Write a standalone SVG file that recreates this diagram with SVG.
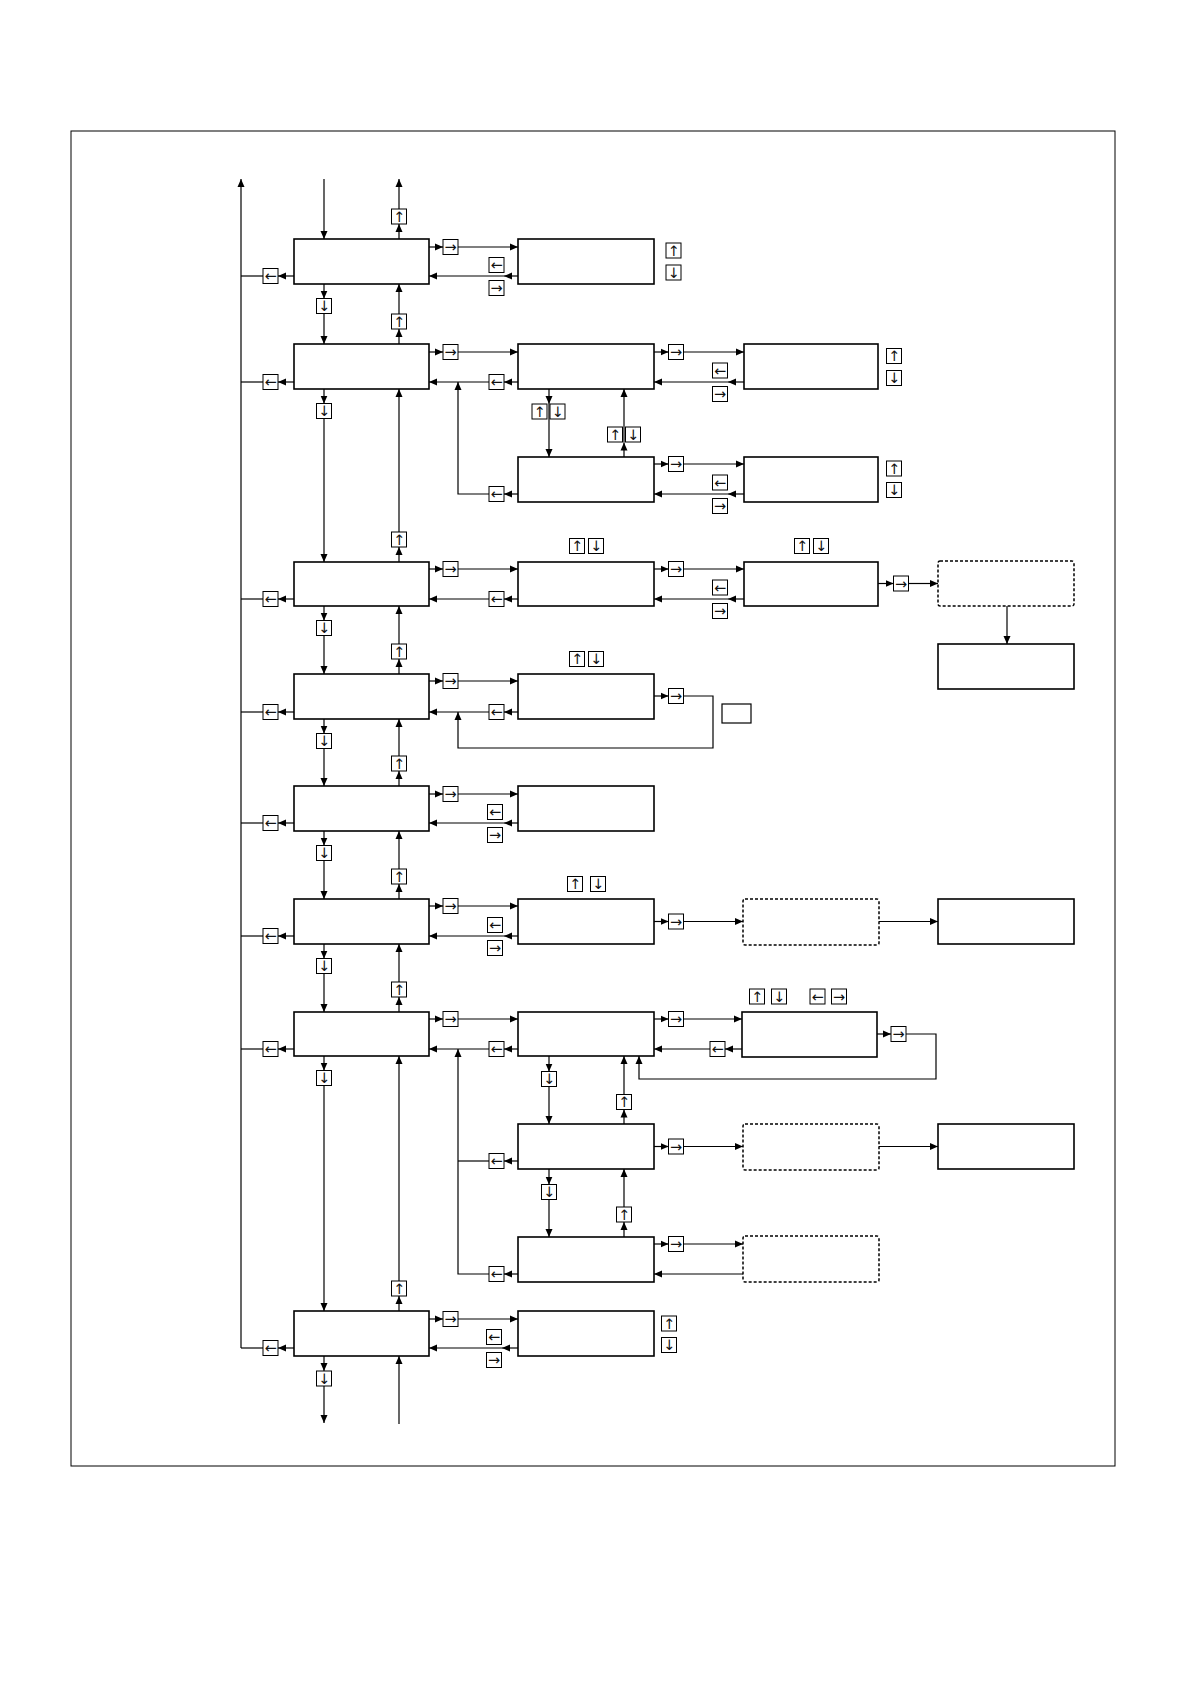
<svg xmlns="http://www.w3.org/2000/svg" xmlns:xlink="http://www.w3.org/1999/xlink" width="1191" height="1684" viewBox="0 0 1191 1684">
<style>
.n{fill:#fff;stroke:#000;stroke-width:1.6}
.d{fill:#fff;stroke:#000;stroke-width:1.5;stroke-dasharray:3 2}
.c{fill:none;stroke:#000;stroke-width:1.2}
.a{marker-end:url(#ah)}
.kr{fill:#fff;stroke:#000;stroke-width:1}
.kt{font-family:"DejaVu Sans",sans-serif;font-size:14.5px;fill:#111;text-anchor:middle}
</style>
<defs>
<marker id="ah" viewBox="0 0 8 8" refX="8" refY="4" markerWidth="8" markerHeight="8" markerUnits="userSpaceOnUse" orient="auto"><path d="M0,0.5 L8,4 L0,7.5z" fill="#000"/></marker>
<g id="kR"><rect class="kr" x="0" y="0" width="15" height="15"/><text class="kt" x="7.5" y="12.5">→</text></g>
<g id="kL"><rect class="kr" x="0" y="0" width="15" height="15"/><text class="kt" x="7.5" y="12.5">←</text></g>
<g id="kU"><rect class="kr" x="0" y="0" width="15" height="15"/><text class="kt" x="7.5" y="12.5">↑</text></g>
<g id="kD"><rect class="kr" x="0" y="0" width="15" height="15"/><text class="kt" x="7.5" y="12.5">↓</text></g>
</defs>
<rect x="0" y="0" width="1191" height="1684" fill="#fff"/>
<rect x="71" y="131" width="1044" height="1335" fill="none" stroke="#000" stroke-width="1"/>

<g id="connectors">
<path class="c a" d="M324,179 V239"/>
<path class="c a" d="M399,239 V224"/>
<path class="c a" d="M399,209 V179"/>
<path class="c a" d="M241,1348 V179"/>
<!-- R1 -->
<path class="c a" d="M429,247 H443"/><path class="c a" d="M458,247 H518"/>
<path class="c a" d="M518,276 H504"/><path class="c a" d="M504,276 H429"/>
<path class="c a" d="M294,276 H278"/><path class="c" d="M263,276 H241"/>
<path class="c a" d="M324,284 V298.5"/><path class="c a" d="M324,313.5 V344"/>
<path class="c a" d="M399,344 V329"/><path class="c a" d="M399,314 V284"/>
<!-- R2 -->
<path class="c a" d="M429,352 H443"/><path class="c a" d="M458,352 H518"/>
<path class="c a" d="M518,382 H504"/><path class="c a" d="M489,382 H429"/>
<path class="c a" d="M294,382 H278"/><path class="c" d="M263,382 H241"/>
<path class="c a" d="M324,389 V403.5"/><path class="c a" d="M324,418.5 V562"/>
<path class="c a" d="M399,562 V547"/><path class="c a" d="M399,532 V389"/>
<path class="c a" d="M654,352 H668.5"/><path class="c a" d="M683.5,352 H744"/>
<path class="c a" d="M744,382 H728"/><path class="c a" d="M728,382 H654"/>
<path class="c a" d="M549,389 V404"/><path class="c a" d="M549,404 V457"/>
<path class="c a" d="M624,457 V442.5"/><path class="c a" d="M624,442.5 V389"/>
<path class="c a" d="M654,464 H668.5"/><path class="c a" d="M683.5,464 H744"/>
<path class="c a" d="M744,494 H728"/><path class="c a" d="M728,494 H654"/>
<path class="c a" d="M518,494 H504"/><path class="c a" d="M489,494 H458 V382"/>
<!-- R3 -->
<path class="c a" d="M429,569 H443"/><path class="c a" d="M458,569 H518"/>
<path class="c a" d="M518,599 H504"/><path class="c a" d="M489,599 H429"/>
<path class="c a" d="M294,599 H278"/><path class="c" d="M263,599 H241"/>
<path class="c a" d="M324,606 V620.5"/><path class="c a" d="M324,635.5 V674"/>
<path class="c a" d="M399,674 V659"/><path class="c a" d="M399,644 V606"/>
<path class="c a" d="M654,569 H668.5"/><path class="c a" d="M683.5,569 H744"/>
<path class="c a" d="M744,599 H728"/><path class="c a" d="M728,599 H654"/>
<path class="c a" d="M878,583.5 H893.5"/><path class="c a" d="M908.5,583.5 H938"/>
<path class="c a" d="M1007,606 V644"/>
<!-- R4 -->
<path class="c a" d="M429,681 H443"/><path class="c a" d="M458,681 H518"/>
<path class="c a" d="M518,712 H504"/><path class="c a" d="M489,712 H429"/>
<path class="c a" d="M294,712 H278"/><path class="c" d="M263,712 H241"/>
<path class="c a" d="M324,719 V733.5"/><path class="c a" d="M324,748.5 V786"/>
<path class="c a" d="M399,786 V771"/><path class="c a" d="M399,756 V719"/>
<path class="c a" d="M654,696 H668.5"/><path class="c a" d="M683.5,696 H713 V748 H458 V712"/>
<!-- R5 -->
<path class="c a" d="M429,794 H443"/><path class="c a" d="M458,794 H518"/>
<path class="c a" d="M518,823 H504"/><path class="c a" d="M504,823 H429"/>
<path class="c a" d="M294,823 H278"/><path class="c" d="M263,823 H241"/>
<path class="c a" d="M324,831 V845.5"/><path class="c a" d="M324,860.5 V899"/>
<path class="c a" d="M399,899 V884"/><path class="c a" d="M399,869 V831"/>
<!-- R6 -->
<path class="c a" d="M429,906 H443"/><path class="c a" d="M458,906 H518"/>
<path class="c a" d="M518,936 H504"/><path class="c a" d="M504,936 H429"/>
<path class="c a" d="M294,936 H278"/><path class="c" d="M263,936 H241"/>
<path class="c a" d="M324,944 V958.5"/><path class="c a" d="M324,973.5 V1012"/>
<path class="c a" d="M399,1012 V997"/><path class="c a" d="M399,982 V944"/>
<path class="c a" d="M654,921.5 H668.5"/><path class="c a" d="M683.5,921.5 H743"/>
<path class="c a" d="M879,921.5 H938"/>
<!-- R7 -->
<path class="c a" d="M429,1019 H443"/><path class="c a" d="M458,1019 H518"/>
<path class="c a" d="M518,1049 H504"/><path class="c a" d="M489,1049 H429"/>
<path class="c a" d="M294,1049 H278"/><path class="c" d="M263,1049 H241"/>
<path class="c a" d="M324,1056 V1070.5"/><path class="c a" d="M324,1085.5 V1311"/>
<path class="c a" d="M399,1311 V1296"/><path class="c a" d="M399,1281 V1056"/>
<path class="c a" d="M654,1019 H668.5"/><path class="c a" d="M683.5,1019 H742"/>
<path class="c a" d="M742,1049 H725"/><path class="c a" d="M710,1049 H654"/>
<path class="c a" d="M877,1034 H891"/><path class="c a" d="M906,1034 H936 V1079 H639 V1056"/>
<path class="c a" d="M549,1056 V1071.5"/><path class="c a" d="M549,1086.5 V1124"/>
<path class="c a" d="M624,1124 V1109.5"/><path class="c a" d="M624,1094.5 V1056"/>
<path class="c a" d="M654,1146.5 H668.5"/><path class="c a" d="M683.5,1146.5 H743"/>
<path class="c a" d="M879,1146.5 H938"/>
<path class="c a" d="M518,1161 H504"/><path class="c" d="M489,1161 H458"/>
<path class="c a" d="M549,1169 V1184.5"/><path class="c a" d="M549,1199.5 V1237"/>
<path class="c a" d="M624,1237 V1222"/><path class="c a" d="M624,1207 V1169"/>
<path class="c a" d="M654,1244 H668.5"/><path class="c a" d="M683.5,1244 H743"/>
<path class="c a" d="M743,1274 H654"/>
<path class="c a" d="M518,1274 H504"/><path class="c a" d="M489,1274 H458 V1049"/>
<!-- R8 -->
<path class="c a" d="M429,1319 H443"/><path class="c a" d="M458,1319 H518"/>
<path class="c a" d="M518,1348 H502"/><path class="c a" d="M502,1348 H429"/>
<path class="c a" d="M294,1348 H278"/><path class="c" d="M263,1348 H241"/>
<path class="c a" d="M324,1356 V1371"/><path class="c a" d="M324,1386 V1423"/>
<path class="c a" d="M399,1424 V1356"/>
</g>

<g id="nodes">
<g id="m1"><rect class="n" x="294" y="239" width="135" height="45"/></g>
<g id="m2"><rect class="n" x="294" y="344" width="135" height="45"/></g>
<g id="m3"><rect class="n" x="294" y="562" width="135" height="44"/></g>
<g id="m4"><rect class="n" x="294" y="674" width="135" height="45"/></g>
<g id="m5"><rect class="n" x="294" y="786" width="135" height="45"/></g>
<g id="m6"><rect class="n" x="294" y="899" width="135" height="45"/></g>
<g id="m7"><rect class="n" x="294" y="1012" width="135" height="44"/></g>
<g id="m8"><rect class="n" x="294" y="1311" width="135" height="45"/></g>
<g id="s1a"><rect class="n" x="518" y="239" width="136" height="45"/></g>
<g id="s2a"><rect class="n" x="518" y="344" width="136" height="45"/></g>
<g id="s2b"><rect class="n" x="518" y="457" width="136" height="45"/></g>
<g id="s3a"><rect class="n" x="518" y="562" width="136" height="44"/></g>
<g id="s4a"><rect class="n" x="518" y="674" width="136" height="45"/></g>
<g id="s5a"><rect class="n" x="518" y="786" width="136" height="45"/></g>
<g id="s6a"><rect class="n" x="518" y="899" width="136" height="45"/></g>
<g id="s7a"><rect class="n" x="518" y="1012" width="136" height="44"/></g>
<g id="s7c"><rect class="n" x="518" y="1124" width="136" height="45"/></g>
<g id="s7e"><rect class="n" x="518" y="1237" width="136" height="45"/></g>
<g id="s8a"><rect class="n" x="518" y="1311" width="136" height="45"/></g>
<g id="t2c"><rect class="n" x="744" y="344" width="134" height="45"/></g>
<g id="t2d"><rect class="n" x="744" y="457" width="134" height="45"/></g>
<g id="t3b"><rect class="n" x="744" y="562" width="134" height="44"/></g>
<g id="t6b"><rect class="d" x="743" y="899" width="136" height="46" rx="2"/></g>
<g id="t7b"><rect class="n" x="742" y="1012" width="135" height="45"/></g>
<g id="t7d"><rect class="d" x="743" y="1124" width="136" height="46" rx="2"/></g>
<g id="t7g"><rect class="d" x="743" y="1236" width="136" height="46" rx="2"/></g>
<g id="u3c"><rect class="d" x="938" y="561" width="136" height="45" rx="2"/></g>
<g id="u3d"><rect class="n" x="938" y="644" width="136" height="45"/></g>
<g id="u6c"><rect class="n" x="938" y="899" width="136" height="45"/></g>
<g id="u7f"><rect class="n" x="938" y="1124" width="136" height="45"/></g>
<g id="small"><rect x="722" y="704" width="29" height="19" fill="#fff" stroke="#000" stroke-width="1.2"/></g>
</g>

<g id="keys">
<use xlink:href="#kU" x="391.5" y="209"/>
<use xlink:href="#kR" x="443" y="239.5"/>
<use xlink:href="#kL" x="489" y="257.5"/><use xlink:href="#kR" x="489" y="280.5"/>
<use xlink:href="#kU" x="666" y="243"/><use xlink:href="#kD" x="666" y="265"/>
<use xlink:href="#kL" x="263" y="268.5"/>
<use xlink:href="#kD" x="316.5" y="298.5"/>
<use xlink:href="#kU" x="391.5" y="314"/>

<use xlink:href="#kR" x="443" y="344.5"/>
<use xlink:href="#kL" x="489" y="374.5"/>
<use xlink:href="#kL" x="263" y="374.5"/>
<use xlink:href="#kR" x="668.5" y="344.5"/>
<use xlink:href="#kL" x="712.5" y="363"/><use xlink:href="#kR" x="712.5" y="386.5"/>
<use xlink:href="#kU" x="886.5" y="348.5"/><use xlink:href="#kD" x="886.5" y="370.5"/>
<use xlink:href="#kU" x="532" y="404"/><use xlink:href="#kD" x="550" y="404"/>
<use xlink:href="#kU" x="607.5" y="427"/><use xlink:href="#kD" x="625.5" y="427"/>
<use xlink:href="#kD" x="316.5" y="403.5"/>
<use xlink:href="#kU" x="391.5" y="532"/>
<use xlink:href="#kR" x="668.5" y="456.5"/>
<use xlink:href="#kL" x="712.5" y="475"/><use xlink:href="#kR" x="712.5" y="498.5"/>
<use xlink:href="#kU" x="886.5" y="461"/><use xlink:href="#kD" x="886.5" y="482.5"/>
<use xlink:href="#kL" x="489" y="486.5"/>

<use xlink:href="#kR" x="443" y="561.5"/>
<use xlink:href="#kL" x="489" y="591.5"/>
<use xlink:href="#kL" x="263" y="591.5"/>
<use xlink:href="#kU" x="569.5" y="538.5"/><use xlink:href="#kD" x="588.5" y="538.5"/>
<use xlink:href="#kR" x="668.5" y="561.5"/>
<use xlink:href="#kL" x="712.5" y="580"/><use xlink:href="#kR" x="712.5" y="603.5"/>
<use xlink:href="#kU" x="794.5" y="538.5"/><use xlink:href="#kD" x="813.5" y="538.5"/>
<use xlink:href="#kR" x="893.5" y="576"/>
<use xlink:href="#kD" x="316.5" y="620.5"/>
<use xlink:href="#kU" x="391.5" y="644"/>

<use xlink:href="#kR" x="443" y="673.5"/>
<use xlink:href="#kL" x="489" y="704.5"/>
<use xlink:href="#kL" x="263" y="704.5"/>
<use xlink:href="#kU" x="569.5" y="651.5"/><use xlink:href="#kD" x="588.5" y="651.5"/>
<use xlink:href="#kR" x="668.5" y="688.5"/>
<use xlink:href="#kD" x="316.5" y="733.5"/>
<use xlink:href="#kU" x="391.5" y="756"/>

<use xlink:href="#kR" x="443" y="786.5"/>
<use xlink:href="#kL" x="487.5" y="804.5"/><use xlink:href="#kR" x="487.5" y="827.5"/>
<use xlink:href="#kL" x="263" y="815.5"/>
<use xlink:href="#kD" x="316.5" y="845.5"/>
<use xlink:href="#kU" x="391.5" y="869"/>

<use xlink:href="#kR" x="443" y="898.5"/>
<use xlink:href="#kL" x="487.5" y="917.5"/><use xlink:href="#kR" x="487.5" y="940.5"/>
<use xlink:href="#kL" x="263" y="928.5"/>
<use xlink:href="#kU" x="567.5" y="876.5"/><use xlink:href="#kD" x="590.5" y="876.5"/>
<use xlink:href="#kR" x="668.5" y="914"/>
<use xlink:href="#kD" x="316.5" y="958.5"/>
<use xlink:href="#kU" x="391.5" y="982"/>

<use xlink:href="#kR" x="443" y="1011.5"/>
<use xlink:href="#kL" x="489" y="1041.5"/>
<use xlink:href="#kL" x="263" y="1041.5"/>
<use xlink:href="#kR" x="668.5" y="1011.5"/>
<use xlink:href="#kU" x="749.5" y="989"/><use xlink:href="#kD" x="771.5" y="989"/>
<use xlink:href="#kL" x="810" y="989"/><use xlink:href="#kR" x="831.5" y="989"/>
<use xlink:href="#kL" x="710" y="1041.5"/>
<use xlink:href="#kR" x="891" y="1026.5"/>
<use xlink:href="#kD" x="541.5" y="1071.5"/>
<use xlink:href="#kU" x="616.5" y="1094.5"/>
<use xlink:href="#kD" x="316.5" y="1070.5"/>
<use xlink:href="#kU" x="391.5" y="1281"/>
<use xlink:href="#kR" x="668.5" y="1139"/>
<use xlink:href="#kL" x="489" y="1153.5"/>
<use xlink:href="#kD" x="541.5" y="1184.5"/>
<use xlink:href="#kU" x="616.5" y="1207"/>
<use xlink:href="#kR" x="668.5" y="1236.5"/>
<use xlink:href="#kL" x="489" y="1266.5"/>

<use xlink:href="#kR" x="443" y="1311.5"/>
<use xlink:href="#kL" x="486.5" y="1329.5"/><use xlink:href="#kR" x="486.5" y="1352.5"/>
<use xlink:href="#kU" x="661.5" y="1316"/><use xlink:href="#kD" x="661.5" y="1337.5"/>
<use xlink:href="#kL" x="263" y="1340.5"/>
<use xlink:href="#kD" x="316.5" y="1371"/>
</g>
</svg>
